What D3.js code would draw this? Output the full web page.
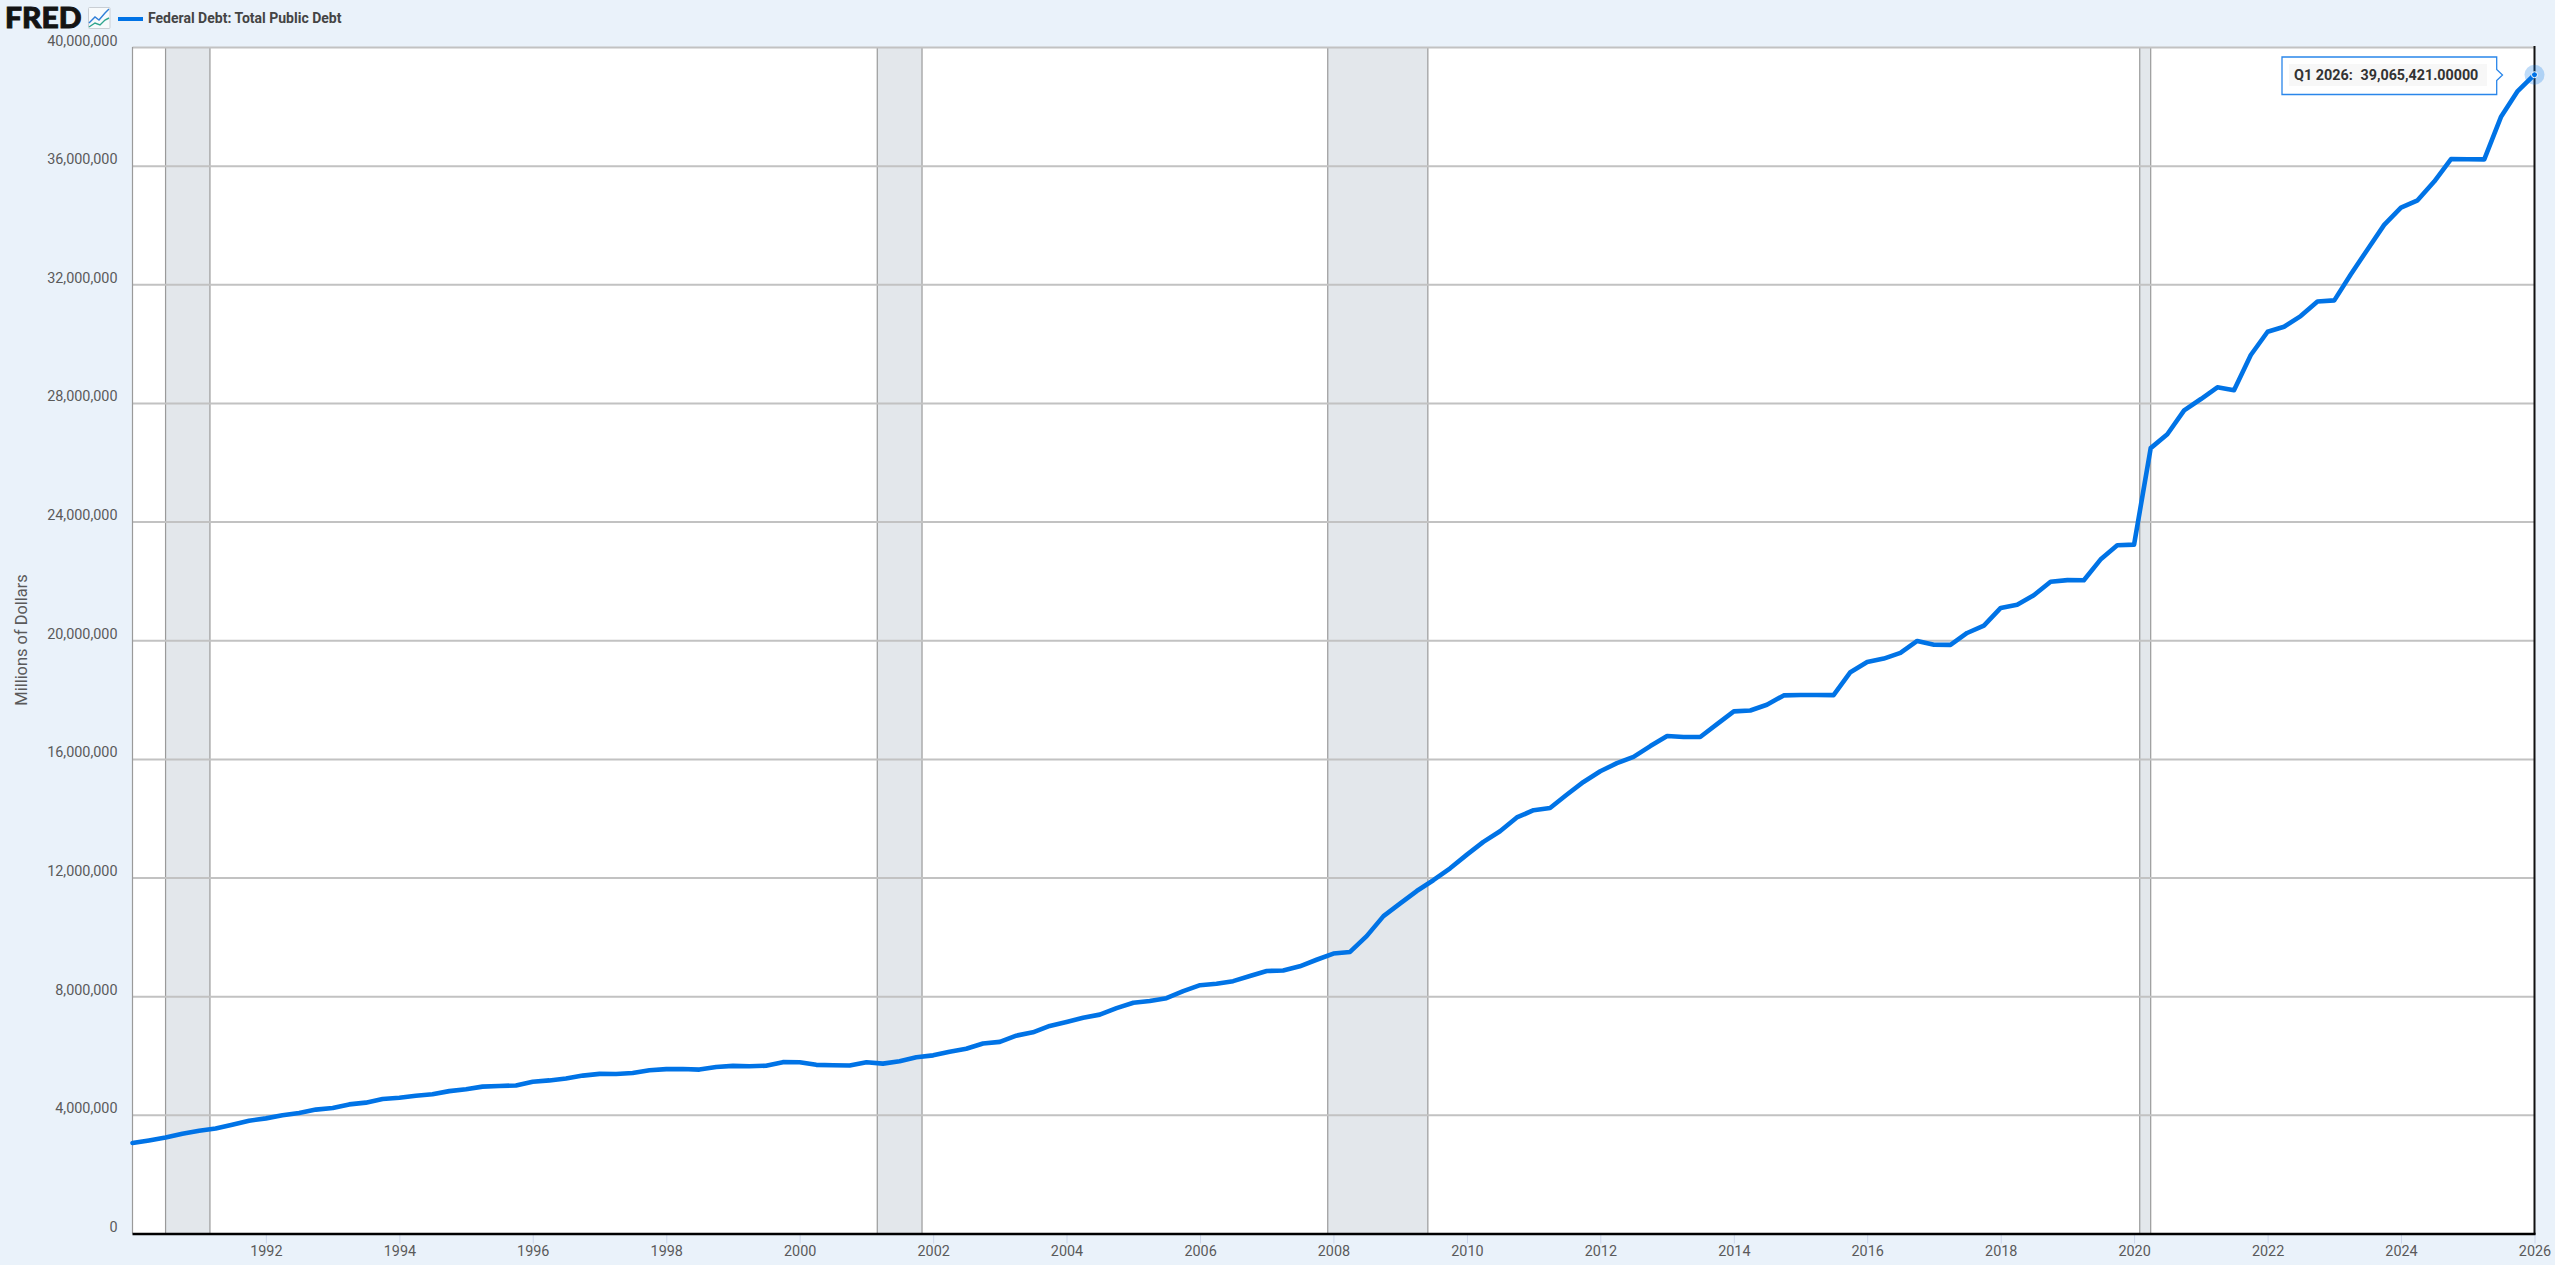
<!DOCTYPE html>
<html>
<head>
<meta charset="utf-8">
<title>Federal Debt: Total Public Debt</title>
<script src="https://cdn.jsdelivr.net/npm/d3@7"></script>
<style>
html,body{margin:0;padding:0;background:#eaf2fa;overflow:hidden}
svg{display:block}
text{font-family:Roboto,sans-serif}
</style>
</head>
<body>
<svg id="chart" width="2555" height="1265"></svg>
<script>
const seriesName = "Federal Debt: Total Public Debt";
const axisTitle = "Millions of Dollars";
const firstQuarter = "1990-01-01";
const debtValues = [
3052,3138,3233,3365,3465,3538,3665,3802,3881,3985,4065,4177,4231,4352,4412,4536,
4576,4646,4693,4800,4864,4951,4974,4989,5118,5161,5225,5323,5381,5376,5413,5502,
5542,5548,5526,5614,5652,5639,5656,5776,5773,5686,5674,5662,5774,5727,5808,5943,
6006,6127,6228,6406,6461,6670,6783,6998,7131,7274,7379,7596,7777,7837,7933,8170,
8371,8420,8507,8680,8850,8867,9008,9229,9438,9492,10025,10700,11127,11545,11910,12311,
12773,13202,13562,14025,14270,14343,14790,15223,15582,15856,16066,16433,16772,16738,16738,17170,
17601,17633,17824,18141,18152,18152,18151,18922,19265,19382,19573,19977,19846,19845,20245,20493,
21089,21195,21516,21974,22028,22023,22719,23201,23224,26477,26945,27748,28133,28529,28429,29617,
30401,30569,30929,31420,31458,32332,33167,34002,34587,34832,35465,36219,36214,36212,37638,38515,
39065.421
];
const recessionStarts = ["1990-07-01","2001-03-01","2007-12-01","2020-02-01"];
const recessionEnds   = ["1991-03-01","2001-11-01","2009-06-01","2020-04-01"];
const yTicks = [0,4000000,8000000,12000000,16000000,20000000,24000000,28000000,32000000,36000000,40000000];
const xTickYears = [1992,1994,1996,1998,2000,2002,2004,2006,2008,2010,2012,2014,2016,2018,2020,2022,2024,2026];
const tooltipLabel = "Q1 2026:";
const tooltipValue = "39,065,421.00000";

const parse = d3.utcParse("%Y-%m-%d");
const start = parse(firstQuarter);
const points = debtValues.map((v,i)=>({date:d3.utcMonth.offset(start,i*3),value:v*1000}));
const recessions = recessionStarts.map((s,i)=>({start:parse(s),end:parse(recessionEnds[i])}));

const L=132.5,R=2534.5,T=47,B=1233.5;
const x=d3.scaleUtc().domain([start,points[points.length-1].date]).range([L,R]);
const y=d3.scaleLinear().domain([0,40000000]).range([B,T]);
const svg=d3.select("#chart");

// plot background
svg.append("rect").attr("x",L).attr("y",T).attr("width",R-L).attr("height",B-T).attr("fill","#fff");

// recession bands
const bands=svg.append("g");
bands.selectAll("rect").data(recessions).join("rect")
  .attr("x",d=>x(d.start)).attr("y",T).attr("width",d=>x(d.end)-x(d.start)).attr("height",B-T)
  .attr("fill","#e3e7eb");
bands.selectAll("line.a").data(recessions.flatMap(d=>[d.start,d.end])).join("line")
  .attr("x1",d=>x(d)).attr("x2",d=>x(d)).attr("y1",T).attr("y2",B)
  .attr("stroke","#9a9a9a").attr("stroke-width",1.2);

// y axis + grid
const yAxis=svg.append("g").attr("transform",`translate(${L},0)`)
  .call(d3.axisLeft(y).tickValues(yTicks).tickFormat(d3.format(",")).tickSize(0).tickPadding(15));
yAxis.select(".domain").remove();
yAxis.selectAll("text").attr("dy",0).attr("y",-2)
  .attr("font-size",14.4).attr("fill","#5a5a5a").style("font-family","Roboto");
yAxis.selectAll(".tick").filter(d=>d>0).append("line")
  .attr("x1",0).attr("x2",R-L).attr("stroke","#c2c2c2").attr("stroke-width",2);

// x axis
const xAxis=svg.append("g").attr("transform",`translate(0,${B})`)
  .call(d3.axisBottom(x).tickValues(xTickYears.map(yr=>new Date(Date.UTC(yr,0,1))))
    .tickFormat(d3.utcFormat("%Y")).tickSize(10).tickPadding(2));
xAxis.select(".domain").remove();
xAxis.selectAll("line").attr("stroke","#ccd6eb").attr("stroke-width",1);
xAxis.selectAll("text").attr("font-size",14.4).attr("fill","#5a5a5a").style("font-family","Roboto");

// frame
svg.append("line").attr("x1",L).attr("x2",L).attr("y1",T).attr("y2",B).attr("stroke","#9a9a9a").attr("stroke-width",1.2);
svg.append("line").attr("x1",R).attr("x2",R).attr("y1",T-1).attr("y2",B+1).attr("stroke","#111").attr("stroke-width",2);
svg.append("line").attr("x1",L).attr("x2",R+1).attr("y1",B+.5).attr("y2",B+.5).attr("stroke","#000").attr("stroke-width",2.4);

// series line
const line=d3.line().x(d=>x(d.date)).y(d=>y(d.value));
svg.append("path").datum(points).attr("d",line).attr("fill","none")
  .attr("stroke","#0073e6").attr("stroke-width",4.6).attr("stroke-linejoin","round").attr("stroke-linecap","round");

// last point marker
const last=points[points.length-1];
svg.append("circle").attr("cx",x(last.date)).attr("cy",y(last.value)).attr("r",10).attr("fill","#0073e6").attr("fill-opacity",0.25);
svg.append("circle").attr("cx",x(last.date)).attr("cy",y(last.value)).attr("r",3).attr("fill","#0073e6").attr("stroke","#fff").attr("stroke-width",1);

// tooltip
const tip=svg.append("g");
tip.append("path").attr("d","M2282,57H2496.7V69.5L2502.5,75L2496.7,80.5V94.5H2282Z")
  .attr("fill","#fff").attr("stroke","#2a86ea").attr("stroke-width",1.3);
tip.append("rect").attr("x",2289).attr("y",64).attr("width",198).attr("height",22).attr("fill","#f7f7f7");
tip.append("text").attr("x",2294).attr("y",80).attr("font-size",14.4).attr("font-weight",700).attr("fill","#333").text(tooltipLabel);
tip.append("text").attr("x",2360.5).attr("y",80).attr("font-size",14.3).attr("font-weight",700).attr("fill","#333").text(tooltipValue);

// y title
svg.append("text").attr("transform","translate(27,640) rotate(-90)").attr("text-anchor","middle")
  .attr("font-size",16.4).attr("fill","#5a5a5a").text(axisTitle);

// header: logo, icon, legend
svg.append("text").attr("x",5).attr("y",28).attr("font-size",28).attr("font-weight",900)
  .attr("textLength",76.5).attr("lengthAdjust","spacingAndGlyphs")
  .style("font-family","Lato").attr("fill","#141414").attr("stroke","#141414").attr("stroke-width",0.9).text("FRED");
const icon=svg.append("g");
icon.append("rect").attr("x",88.5).attr("y",7.5).attr("width",21.5).attr("height",21).attr("rx",1).attr("fill","#f7fafc").attr("stroke","#c9ced4");
icon.append("path").attr("d","M89,23L95,17L99,20L105,13L109,9").attr("fill","none").attr("stroke","#2f7ed8").attr("stroke-width",1.4);
icon.append("path").attr("d","M89,27L95,23L100,25L105,20L109,18").attr("fill","none").attr("stroke","#2fa58e").attr("stroke-width",1.4);
svg.append("line").attr("x1",118).attr("x2",143).attr("y1",19).attr("y2",19).attr("stroke","#0073e6").attr("stroke-width",4);
svg.append("text").attr("x",148).attr("y",22.5).attr("font-size",14).attr("font-weight",700).attr("fill","#444").text(seriesName);
</script>
</body>
</html>
